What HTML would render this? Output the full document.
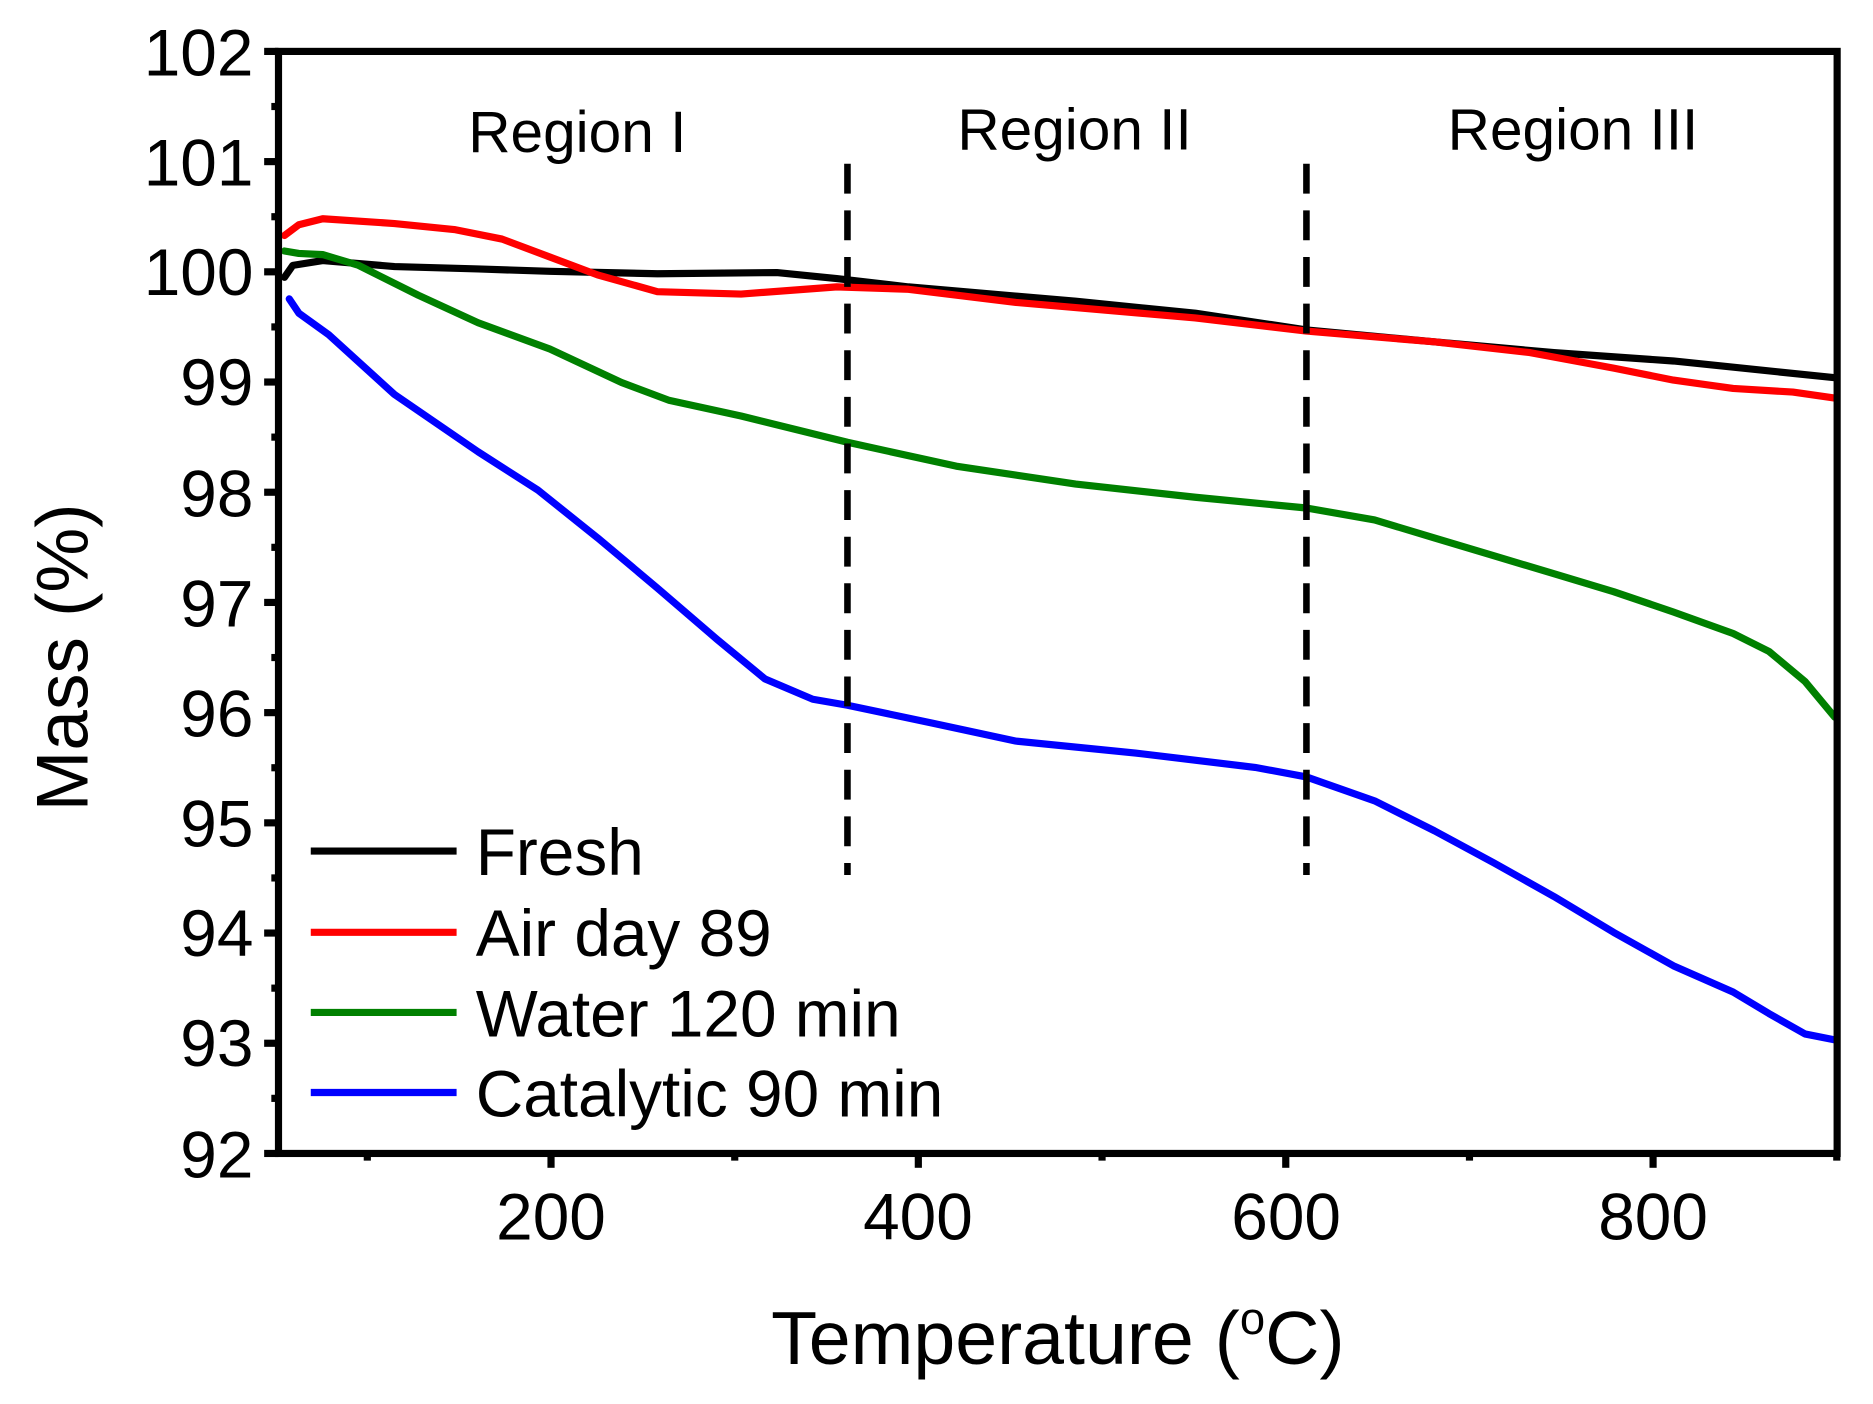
<!DOCTYPE html>
<html><head><meta charset="utf-8"><style>html,body{margin:0;padding:0;background:#fff}svg{display:block}</style></head>
<body>
<svg width="1873" height="1404" viewBox="0 0 1567 1174.6" xmlns="http://www.w3.org/2000/svg" font-family="Liberation Sans, Arial, sans-serif">
<rect width="1567" height="1175" fill="#fff"/>
<g fill="none" stroke-width="6" stroke-linejoin="round" stroke-linecap="round">
<polyline stroke="#000" points="238,232 245,222 270,218 330,223 400,225 460,227 550,229 650,228 700,233 760,240 900,252 1000,262 1093,276 1200,286 1300,295 1400,302 1535,316"/>
<polyline stroke="#ff0000" points="238,197 250,188 270,183 330,187 380,192 420,200 460,215 500,230 550,244 620,246 700,240 760,242 850,253 1000,266 1093,277 1200,286 1280,295 1350,308 1400,318 1450,325 1500,328 1535,333"/>
<polyline stroke="#008000" points="238,210 250,212 270,213 300,222 350,247 400,270 460,292 520,320 560,335 620,348 709,370 800,390 900,405 1000,416 1093,425 1150,435 1200,450 1250,465 1300,480 1350,495 1400,512 1450,530 1480,545 1510,570 1535,600"/>
<polyline stroke="#0000ff" points="242,250 250,262 275,280 330,330 400,378 450,410 500,450 550,492 600,535 640,568 680,585 709,590 780,605 850,620 950,630 1050,642 1093,650 1150,670 1200,695 1250,722 1300,750 1350,780 1400,808 1450,830 1480,848 1510,865 1535,870"/>
</g>
<g stroke="#000" stroke-width="5.5" stroke-dasharray="25,14">
<line x1="709" y1="137" x2="709" y2="732"/>
<line x1="1093" y1="137" x2="1093" y2="732"/>
</g>
<rect x="233" y="43" width="1304" height="922" fill="none" stroke="#000" stroke-width="6"/>
<g stroke="#000" stroke-width="6">
<line x1="221" y1="43" x2="233" y2="43"/><line x1="221" y1="135.2" x2="233" y2="135.2"/><line x1="221" y1="227.4" x2="233" y2="227.4"/><line x1="221" y1="319.6" x2="233" y2="319.6"/><line x1="221" y1="411.8" x2="233" y2="411.8"/><line x1="221" y1="504" x2="233" y2="504"/><line x1="221" y1="596.2" x2="233" y2="596.2"/><line x1="221" y1="688.4" x2="233" y2="688.4"/><line x1="221" y1="780.6" x2="233" y2="780.6"/><line x1="221" y1="872.8" x2="233" y2="872.8"/><line x1="221" y1="965" x2="233" y2="965"/>
<line x1="227" y1="89.1" x2="233" y2="89.1"/><line x1="227" y1="181.3" x2="233" y2="181.3"/><line x1="227" y1="273.5" x2="233" y2="273.5"/><line x1="227" y1="365.7" x2="233" y2="365.7"/><line x1="227" y1="457.9" x2="233" y2="457.9"/><line x1="227" y1="550.1" x2="233" y2="550.1"/><line x1="227" y1="642.3" x2="233" y2="642.3"/><line x1="227" y1="734.5" x2="233" y2="734.5"/><line x1="227" y1="826.7" x2="233" y2="826.7"/><line x1="227" y1="918.9" x2="233" y2="918.9"/>
<line x1="461" y1="965" x2="461" y2="977"/><line x1="768.3" y1="965" x2="768.3" y2="977"/><line x1="1075.7" y1="965" x2="1075.7" y2="977"/><line x1="1383" y1="965" x2="1383" y2="977"/>
<line x1="307.3" y1="965" x2="307.3" y2="971"/><line x1="614.7" y1="965" x2="614.7" y2="971"/><line x1="922" y1="965" x2="922" y2="971"/><line x1="1229.4" y1="965" x2="1229.4" y2="971"/><line x1="1536.7" y1="965" x2="1536.7" y2="971"/>
</g>
<g font-size="55" text-anchor="end" fill="#000">
<text x="212" y="63">102</text><text x="212" y="155">101</text><text x="212" y="247">100</text><text x="212" y="339">99</text><text x="212" y="432">98</text><text x="212" y="524">97</text><text x="212" y="616">96</text><text x="212" y="708">95</text><text x="212" y="800">94</text><text x="212" y="892">93</text><text x="212" y="985">92</text>
</g>
<g font-size="55" text-anchor="middle" fill="#000">
<text x="461" y="1037">200</text><text x="768" y="1037">400</text><text x="1076" y="1037">600</text><text x="1383" y="1037">800</text>
</g>
<g font-size="49" text-anchor="middle" fill="#000">
<text x="483" y="127">Region I</text><text x="899" y="125">Region II</text><text x="1316" y="125">Region III</text>
</g>
<text x="885" y="1141" font-size="63" text-anchor="middle">Temperature (<tspan font-size="38" dy="-25">o</tspan><tspan dy="25">C)</tspan></text>
<text transform="translate(73,550) rotate(-90)" font-size="61" text-anchor="middle">Mass (%)</text>
<g stroke-width="6">
<line x1="260" y1="712" x2="382" y2="712" stroke="#000"/>
<line x1="260" y1="780" x2="382" y2="780" stroke="#ff0000"/>
<line x1="260" y1="847" x2="382" y2="847" stroke="#008000"/>
<line x1="260" y1="914" x2="382" y2="914" stroke="#0000ff"/>
</g>
<g font-size="55" fill="#000">
<text x="398" y="732">Fresh</text><text x="398" y="800">Air day 89</text><text x="398" y="867">Water 120 min</text><text x="398" y="934">Catalytic 90 min</text>
</g>
</svg>
</body></html>
